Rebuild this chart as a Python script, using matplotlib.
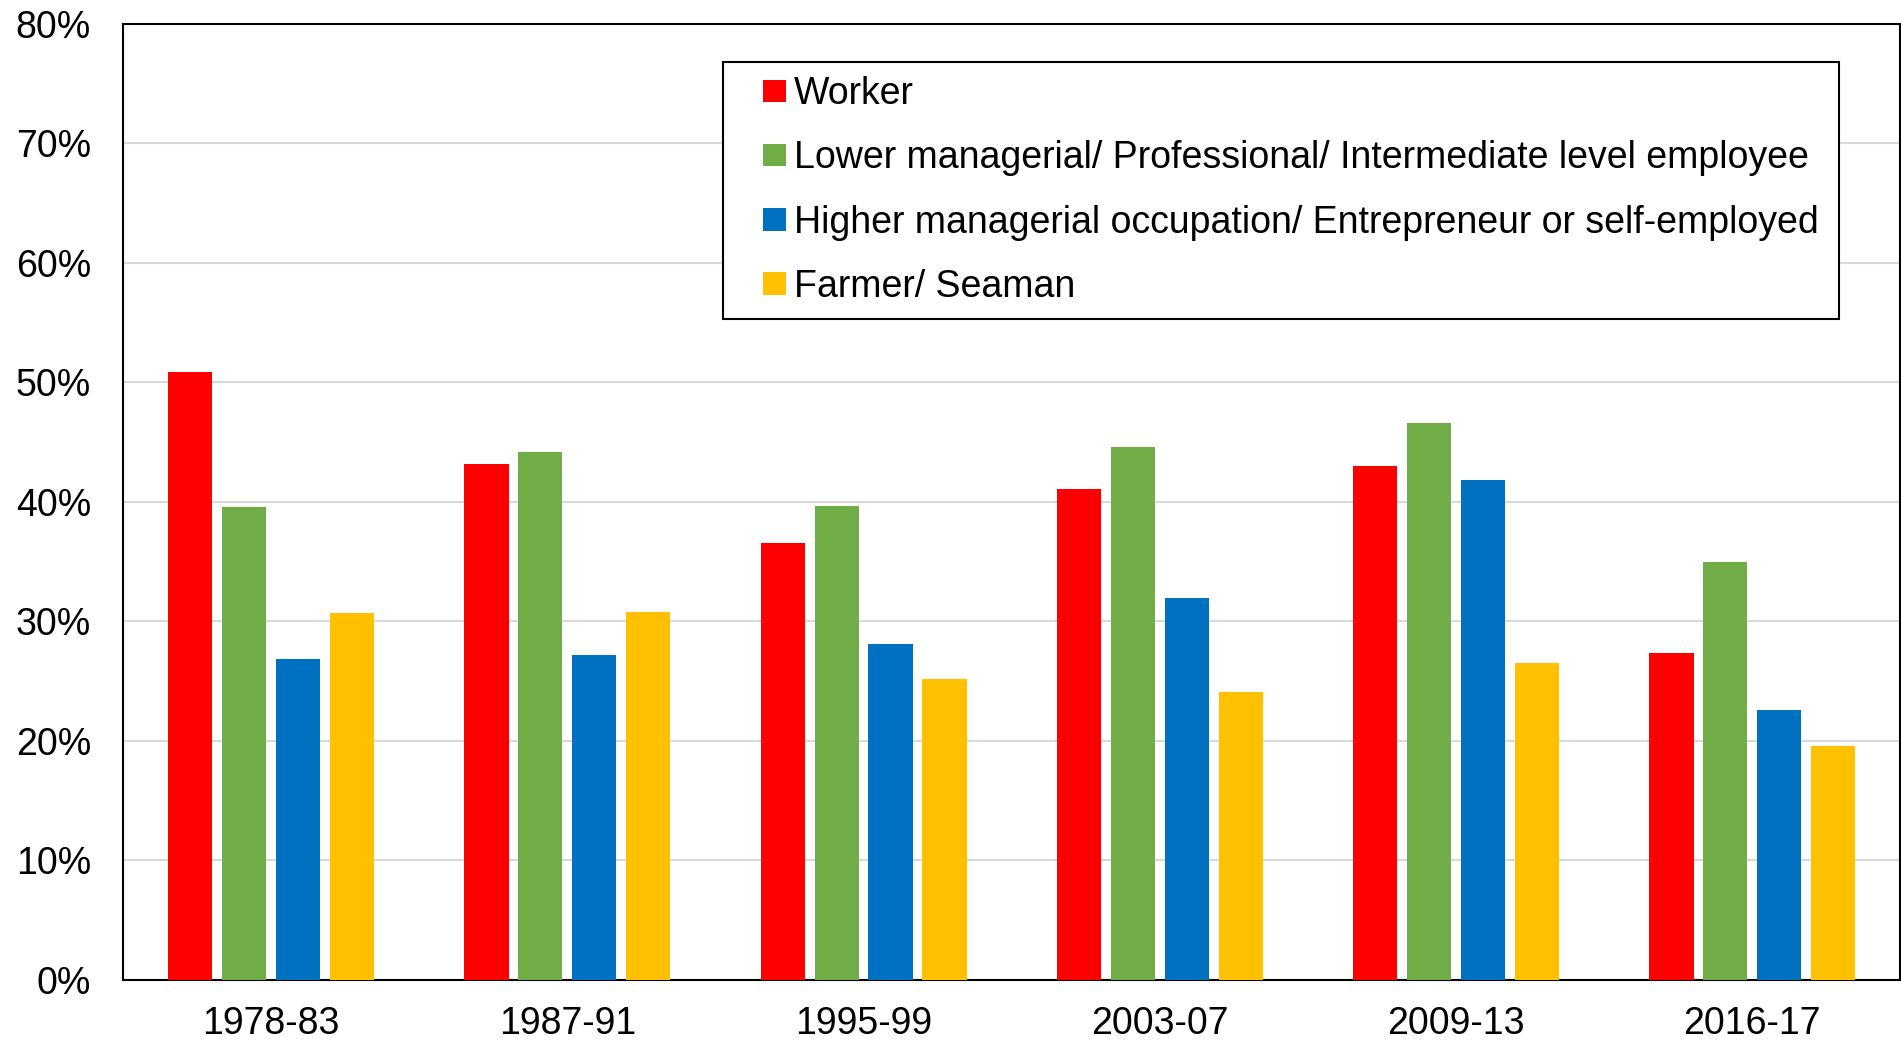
import numpy as np
import matplotlib
matplotlib.use('Agg')
import matplotlib.pyplot as plt
from matplotlib.ticker import PercentFormatter
from matplotlib.patches import Rectangle
from matplotlib.legend_handler import HandlerPatch

plt.rcParams['font.family'] = ['Liberation Sans', 'DejaVu Sans']

periods = ['1978-83', '1987-91', '1995-99', '2003-07', '2009-13', '2016-17']
series_names = ['Worker',
                'Lower managerial/ Professional/ Intermediate level employee',
                'Higher managerial occupation/ Entrepreneur or self-employed',
                'Farmer/ Seaman']
worker = [50.9, 43.2, 36.6, 41.1, 43.0, 27.4]
lower_mgr = [39.6, 44.2, 39.7, 44.6, 46.6, 35.0]
higher_mgr = [26.9, 27.2, 28.1, 32.0, 41.8, 22.6]
farmer = [30.7, 30.8, 25.2, 24.1, 26.5, 19.6]
colors = ['#FF0000', '#70AD47', '#0070C0', '#FFC000']

FS = 27

fig = plt.figure(figsize=(19.01, 10.41), dpi=100)
ax = fig.add_axes([0.0647, 0.0586, 0.935, 0.9184])

x = np.arange(len(periods))
pitch = 0.182
width = 0.149
bars = []
for i, (vals, name, c) in enumerate(zip([worker, lower_mgr, higher_mgr, farmer],
                                        series_names, colors)):
    bc = ax.bar(x + (i - 1.5) * pitch, vals, width=width, color=c, label=name, zorder=3)
    bars.append(bc.patches[0])

ax.set_xlim(-0.5, len(periods) - 0.5)
ax.set_ylim(0, 80)
ax.set_yticks(np.arange(0, 81, 10))
ax.yaxis.set_major_formatter(PercentFormatter(decimals=0))
ax.set_xticks(x)
ax.set_xticklabels(periods)
ax.tick_params(axis='both', length=0, labelsize=FS)
ax.tick_params(axis='y', pad=23)
ax.tick_params(axis='x', pad=19)
ax.grid(axis='y', color='#d9d9d9', lw=1.5, zorder=0)
for s in ax.spines.values():
    s.set_color('black'); s.set_linewidth(1.5)


# square legend marker sitting at the right end of the handle slot
def square_patch(legend, orig_handle, xdescent, ydescent, width, height, fontsize):
    side = height
    return Rectangle((-xdescent + width - side, -ydescent), side, side)


leg = ax.legend(bars, series_names,
                loc='upper left', bbox_to_anchor=(0.3803, 0.9404, 0.587, 0),
                bbox_transform=fig.transFigure, borderaxespad=0, mode='expand',
                fontsize=FS, handlelength=1.3, handleheight=0.55,
                handletextpad=0.22, labelspacing=0.75, borderpad=0.38,
                fancybox=False, framealpha=1, edgecolor='black',
                handler_map={Rectangle: HandlerPatch(patch_func=square_patch)})
leg.get_frame().set_linewidth(1.5)

plt.savefig('out.png', dpi=100)
